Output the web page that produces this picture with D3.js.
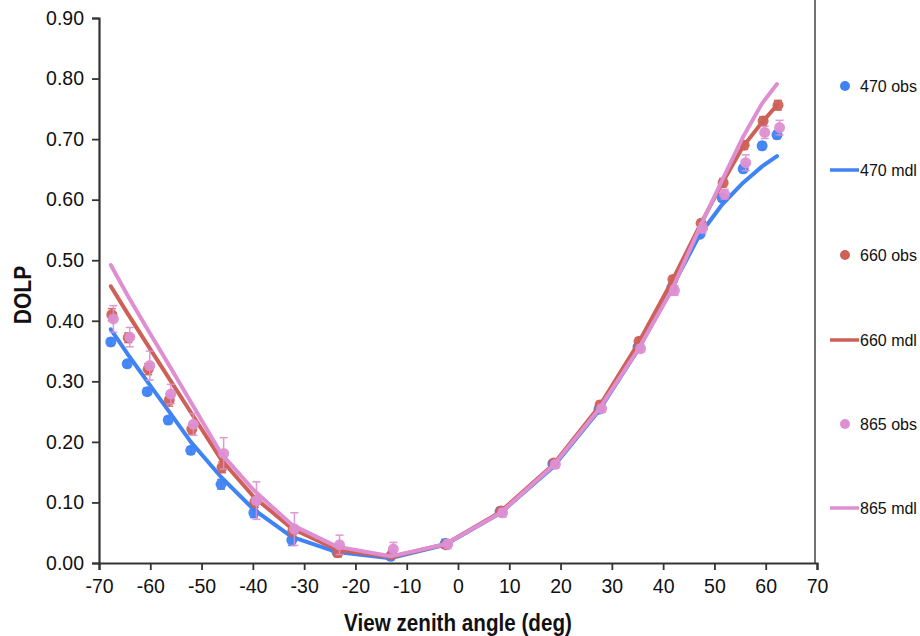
<!DOCTYPE html>
<html>
<head>
<meta charset="utf-8">
<script src="https://cdn.jsdelivr.net/npm/d3@7"></script>
<style>
  body { margin: 0; background: #fff; }
  svg { display: block; font-family: "Liberation Sans", Arial, sans-serif; }
</style>
</head>
<body>
<svg id="chart" width="920" height="636"></svg>
<script>
// ---- data ----
const angles = [-67.7, -64.5, -60.6, -56.5, -52.1, -46.2, -39.8, -32.4, -23.6, -13.1, -2.5, 8.2, 18.5, 27.5, 35.1, 41.7, 47.2, 51.5, 55.6, 59.3, 62.2];
const obs470 = [0.365, 0.329, 0.283, 0.236, 0.186, 0.130, 0.083, 0.038, 0.018, 0.011, 0.032, 0.085, 0.164, 0.254, 0.357, 0.455, 0.543, 0.603, 0.651, 0.689, 0.707];
const err470 = [0.006, 0.005, 0.006, 0.006, 0.006, 0.008, 0.008, 0.009, 0.006, 0.005, 0.007, 0.006, 0.005, 0.006, 0.006, 0.006, 0.005, 0.006, 0.006, 0.006, 0.006];
const obs660 = [0.410, 0.372, 0.320, 0.269, 0.221, 0.158, 0.101, 0.053, 0.017, 0.014, 0.030, 0.086, 0.165, 0.261, 0.366, 0.468, 0.561, 0.628, 0.690, 0.730, 0.756];
const err660 = [0.010, 0.008, 0.009, 0.010, 0.008, 0.009, 0.009, 0.009, 0.007, 0.006, 0.006, 0.006, 0.006, 0.006, 0.006, 0.006, 0.006, 0.007, 0.007, 0.007, 0.008];
const obs865 = [0.403, 0.373, 0.326, 0.279, 0.229, 0.181, 0.103, 0.056, 0.030, 0.023, 0.031, 0.083, 0.163, 0.255, 0.354, 0.450, 0.553, 0.609, 0.661, 0.711, 0.719];
const err865 = [0.022, 0.016, 0.024, 0.016, 0.018, 0.026, 0.031, 0.027, 0.016, 0.011, 0.007, 0.007, 0.006, 0.006, 0.006, 0.008, 0.008, 0.008, 0.013, 0.010, 0.012];
const mdl470 = [0.386, 0.346, 0.300, 0.252, 0.200, 0.142, 0.088, 0.043, 0.018, 0.008, 0.030, 0.082, 0.158, 0.252, 0.352, 0.455, 0.543, 0.592, 0.628, 0.655, 0.672];
const mdl660 = [0.457, 0.413, 0.361, 0.307, 0.249, 0.171, 0.109, 0.057, 0.022, 0.010, 0.031, 0.084, 0.162, 0.258, 0.362, 0.465, 0.558, 0.627, 0.688, 0.728, 0.756];
const mdl865 = [0.492, 0.443, 0.387, 0.329, 0.266, 0.181, 0.120, 0.063, 0.027, 0.011, 0.031, 0.082, 0.160, 0.254, 0.352, 0.451, 0.555, 0.632, 0.704, 0.759, 0.791];
const xTicks = [-70, -60, -50, -40, -30, -20, -10, 0, 10, 20, 30, 40, 50, 60, 70];
const yTicks = [0, 0.1, 0.2, 0.3, 0.4, 0.5, 0.6, 0.7, 0.8, 0.9];
const legendLabels = ["470 obs", "470 mdl", "660 obs", "660 mdl", "865 obs", "865 mdl"];

const colors = { b470: "#3f83f5", b660: "#cd6157", b865: "#dd8fd2" };

const svg = d3.select("#chart");
const L = 99, R = 817, T = 18, B = 563;
const x = d3.scaleLinear().domain([-70, 70]).range([L, R]);
const y = d3.scaleLinear().domain([0, 0.9]).range([B, T]);

// right border
svg.append("line").attr("x1", 815).attr("x2", 815).attr("y1", 0).attr("y2", B)
  .attr("stroke", "#444").attr("stroke-width", 1.5);

// axes
const xAxis = svg.append("g").attr("transform", `translate(0,${B})`)
  .call(d3.axisBottom(x).tickValues(xTicks).tickSize(7).tickPadding(9).tickFormat(d => String(d)));
const yAxis = svg.append("g").attr("transform", `translate(${L},0)`)
  .call(d3.axisLeft(y).tickValues(yTicks).tickSize(7).tickPadding(8).tickFormat(d3.format(".2f")));
[xAxis, yAxis].forEach(g => {
  g.select(".domain").attr("stroke", "#333").attr("stroke-width", 2.2);
  g.selectAll(".tick line").attr("stroke", "#333").attr("stroke-width", 1.8);
  g.selectAll("text").attr("fill", "#111").attr("font-family", "Liberation Sans, Arial, sans-serif");
});
yAxis.selectAll("text").attr("font-size", 19.5);
xAxis.selectAll("text").attr("font-size", 19.5);

// axis titles
svg.append("text").attr("x", 458).attr("y", 631).attr("text-anchor", "middle")
  .attr("font-size", 24).attr("font-weight", "bold").attr("fill", "#111")
  .attr("transform", "translate(458,0) scale(0.86,1) translate(-458,0)")
  .text("View zenith angle (deg)");
svg.append("text").attr("transform", "translate(31,295) rotate(-90) scale(0.88,1)")
  .attr("text-anchor", "middle").attr("font-size", 24).attr("font-weight", "bold").attr("fill", "#111")
  .text("DOLP");

const line = d3.line().x(d => x(d[0])).y(d => y(d[1]));

function drawObs(vals, errs, color, dx) {
  const g = svg.append("g");
  const pts = angles.map((a, i) => ({ a: a + dx, v: vals[i], e: errs[i] }));
  const eg = g.append("g").attr("stroke", color).attr("stroke-width", 1.5).attr("opacity", 0.9);
  pts.forEach(p => {
    eg.append("line").attr("x1", x(p.a)).attr("x2", x(p.a)).attr("y1", y(p.v - p.e)).attr("y2", y(p.v + p.e));
    eg.append("line").attr("x1", x(p.a) - 4).attr("x2", x(p.a) + 4).attr("y1", y(p.v - p.e)).attr("y2", y(p.v - p.e));
    eg.append("line").attr("x1", x(p.a) - 4).attr("x2", x(p.a) + 4).attr("y1", y(p.v + p.e)).attr("y2", y(p.v + p.e));
  });
  g.selectAll("circle").data(pts).join("circle")
    .attr("cx", p => x(p.a)).attr("cy", p => y(p.v)).attr("r", 5.5)
    .attr("fill", color).attr("opacity", 0.95);
}
function drawMdl(vals, color) {
  svg.append("path").datum(angles.map((a, i) => [a, vals[i]]))
    .attr("d", line).attr("fill", "none").attr("stroke", color)
    .attr("stroke-width", 4).attr("stroke-linejoin", "round").attr("stroke-linecap", "round");
}

drawObs(obs470, err470, colors.b470, 0);
drawMdl(mdl470, colors.b470);
drawObs(obs660, err660, colors.b660, 0.2);
drawMdl(mdl660, colors.b660);
drawObs(obs865, err865, colors.b865, 0.5);
drawMdl(mdl865, colors.b865);

// legend
const legColors = [colors.b470, colors.b470, colors.b660, colors.b660, colors.b865, colors.b865];
const legY = [86, 170, 255, 340, 424, 508];
legendLabels.forEach((lab, i) => {
  const gy = legY[i];
  if (i % 2 === 0) {
    svg.append("circle").attr("cx", 845).attr("cy", gy).attr("r", 5).attr("fill", legColors[i]);
  } else {
    svg.append("line").attr("x1", 830).attr("x2", 859).attr("y1", gy).attr("y2", gy)
      .attr("stroke", legColors[i]).attr("stroke-width", 3.5);
  }
  svg.append("text").attr("x", 860).attr("y", gy + 6).attr("font-size", 16).attr("fill", "#111").text(lab);
});
</script>
</body>
</html>
